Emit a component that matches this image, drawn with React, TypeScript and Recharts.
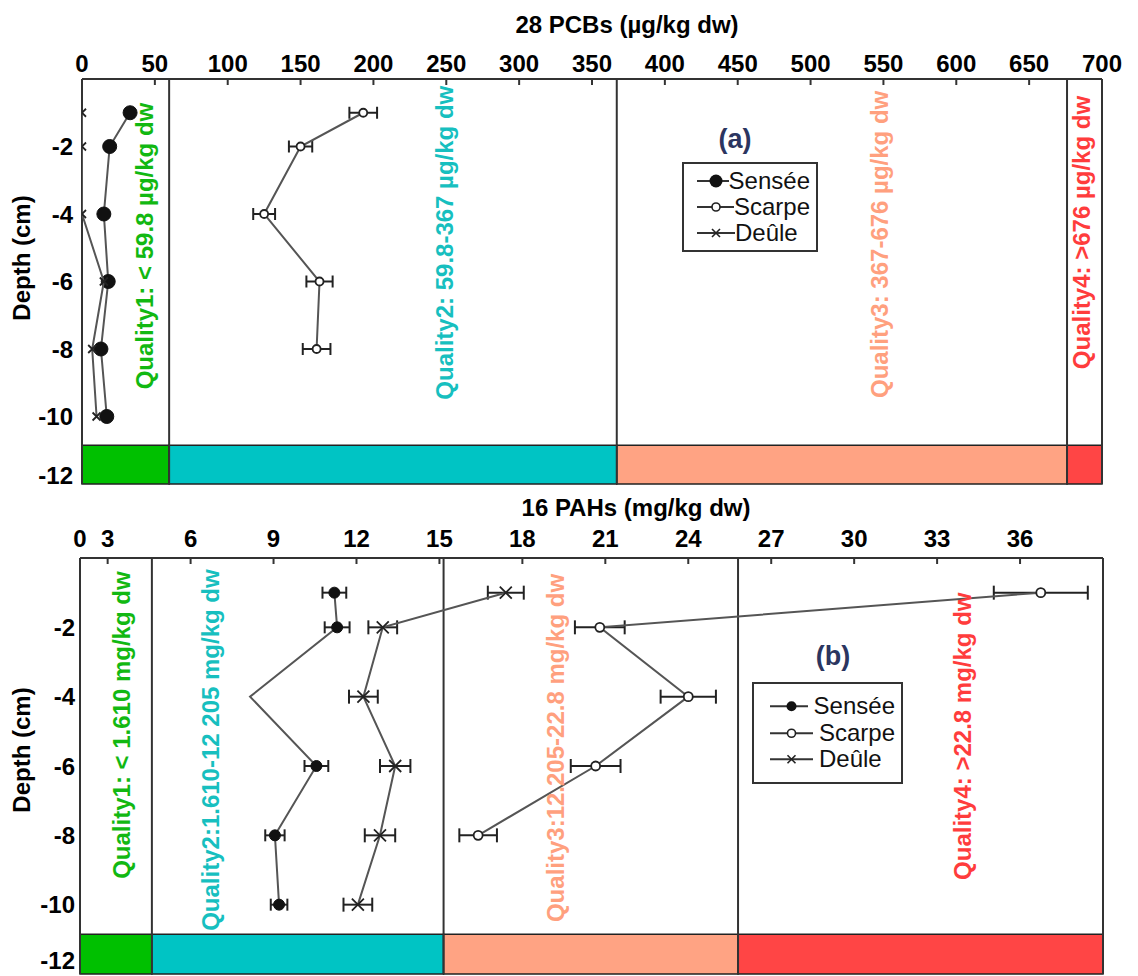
import {
  ComposedChart,
  Scatter,
  XAxis,
  YAxis,
  ErrorBar,
  ReferenceArea,
  ReferenceLine,
  ReferenceDot,
  Legend,
} from 'recharts'

const FONT = '"Liberation Sans", Arial, Helvetica, sans-serif'

// depth profile (cm)
const depths = [-1, -2, -4, -6, -8, -10]
const scarpeDepths = [-1, -2, -4, -6, -8]
const depthTicks = [-12, -10, -8, -6, -4, -2]

// 28 PCBs (µg/kg dw)
const pcbTicks = [0, 50, 100, 150, 200, 250, 300, 350, 400, 450, 500, 550, 600, 650, 700]
const pcbSensee = [33, 19, 15, 18, 13, 17]
const pcbScarpe = [193, 150, 125, 163, 161]
const pcbScarpeErr = [9.5, 8, 7.5, 9, 9.5]
const pcbDeule = [0, 0, 0, 15, 7, 10]
const pcbLimits = [0, 59.8, 367, 676, 700]
const pcbQuality = [
  'Quality1: < 59.8 µg/kg dw',
  'Quality2: 59.8-367 µg/kg dw',
  'Quality3: 367-676 µg/kg dw',
  'Quality4: >676 µg/kg dw',
]

// 16 PAHs (mg/kg dw) - axis origin is printed as 0
const pahTicks = [2, 3, 6, 9, 12, 15, 18, 21, 24, 27, 30, 33, 36]
const pahSensee = [11.2, 11.3, 8.15, 10.55, 9.05, 9.2]
const pahSenseeErr = [0.43, 0.45, null, 0.43, 0.35, 0.3]
const pahSenseeUnmarked = [-4]
const pahScarpe = [36.75, 20.8, 24.0, 20.65, 16.4]
const pahScarpeErr = [1.7, 0.9, 1.0, 0.9, 0.68]
const pahDeule = [17.4, 12.95, 12.25, 13.4, 12.85, 12.05]
const pahDeuleErr = [0.65, 0.52, 0.52, 0.55, 0.55, 0.52]
const pahLimits = [2, 4.6, 15.15, 25.8, 39]
const pahQuality = [
  'Quality1: < 1.610 mg/kg dw',
  'Quality2:1.610-12 205 mg/kg dw',
  'Quality3:12.205-22.8 mg/kg dw',
  'Quality4: >22.8 mg/kg dw',
]

const bandColors = ['#00c000', '#00c4c4', '#ffa383', '#ff4545']
const textColors = ['#12b812', '#17bfbf', '#ffa07e', '#ff3c3c']
const BAND_TOP = -10.85

const toPoints = (vals: number[], ds: number[], errs?: (number | null)[]) =>
  vals.map((v, i) => ({ v, d: ds[i], e: errs ? errs[i] : null }))

const filledDot = (r: number, skip: number[] = []) => (p: any) => {
  const d = (p.payload ?? p).d
  if (p.cx == null || skip.includes(d)) return <g />
  return <circle cx={p.cx} cy={p.cy} r={r} fill="#111" stroke="#111" />
}
const openDot = (r: number) => (p: any) =>
  p.cx == null ? <g /> : <circle cx={p.cx} cy={p.cy} r={r} fill="#fff" stroke="#222" strokeWidth={1.8} />
const xMark = (s: number) => (p: any) =>
  p.cx == null ? (
    <g />
  ) : (
    <path
      d={`M${p.cx - s},${p.cy - s}L${p.cx + s},${p.cy + s}M${p.cx - s},${p.cy + s}L${p.cx + s},${p.cy - s}`}
      stroke="#222"
      strokeWidth={1.8}
    />
  )

function LegendBox({ lineW, gap, padL, padT, rowH, big }: any) {
  const items = ['Sensée', 'Scarpe', 'Deûle']
  const mid = lineW / 2
  const markers = [
    <circle cx={mid} cy={rowH / 2} r={big ? 6.5 : 5} fill="#111" />,
    <circle cx={mid} cy={rowH / 2} r={4} fill="#fff" stroke="#222" strokeWidth={1.6} />,
    <path
      d={`M${mid - 4},${rowH / 2 - 4}L${mid + 4},${rowH / 2 + 4}M${mid - 4},${rowH / 2 + 4}L${mid + 4},${rowH / 2 - 4}`}
      stroke="#222"
      strokeWidth={1.6}
    />,
  ]
  return (
    <div
      style={{
        border: '2px solid #333',
        background: '#fff',
        padding: `${padT}px 6px ${padT}px ${padL}px`,
        fontFamily: FONT,
        fontSize: 24,
        color: '#111',
      }}
    >
      {items.map((name, i) => (
        <div key={name} style={{ display: 'flex', alignItems: 'center', height: rowH }}>
          <svg width={lineW} height={rowH}>
            <line x1={0} x2={lineW} y1={rowH / 2} y2={rowH / 2} stroke="#333" strokeWidth={2} />
            {markers[i]}
          </svg>
          <span style={{ marginLeft: gap, lineHeight: `${rowH}px` }}>{name}</span>
        </div>
      ))}
    </div>
  )
}

const tickStyle = { fill: '#000', fontSize: 24, fontWeight: 'bold', fontFamily: FONT }
const axisStroke = { stroke: '#333', strokeWidth: 2 }

// the lowest depth label sits a little above the frame edge, as in the figure
const depthTick = (lift: number) => (p: any) => (
  <text
    x={p.x}
    y={p.y - (p.payload.value === -12 ? lift : 0)}
    dy="0.36em"
    textAnchor="end"
    {...tickStyle}
  >
    {p.payload.value}
  </text>
)

function ProfileChart({ cfg }: any) {
  const { domain, limits } = cfg
  return (
    <ComposedChart width={1138} height={cfg.height} margin={cfg.margin}>
      <XAxis
        type="number"
        dataKey="v"
        orientation="top"
        domain={domain}
        ticks={cfg.ticks}
        interval={0}
        allowDataOverflow
        height={cfg.xAxisHeight}
        tickSize={-6}
        tickMargin={cfg.xTickMargin}
        tick={tickStyle}
        tickFormatter={cfg.tickFormatter}
        axisLine={axisStroke}
        tickLine={axisStroke}
      />
      <YAxis
        type="number"
        dataKey="d"
        domain={[-12, 0]}
        ticks={depthTicks}
        interval={0}
        allowDataOverflow
        width={cfg.yAxisWidth}
        tickLine={false}
        tickSize={0}
        tickMargin={cfg.yTickMargin}
        tick={depthTick(cfg.lowLift)}
        axisLine={axisStroke}
      />
      {bandColors.map((c, i) => (
        <ReferenceArea
          key={c}
          x1={limits[i]}
          x2={limits[i + 1]}
          y1={-12}
          y2={BAND_TOP}
          fill={c}
          fillOpacity={1}
          stroke="#222"
          strokeWidth={1.5}
        />
      ))}
      {limits.slice(1).map((l: number) => (
        <ReferenceLine key={l} x={l} stroke="#333" strokeWidth={2} />
      ))}
      {cfg.quality.map((q: string, i: number) => (
        <ReferenceDot
          key={q}
          x={cfg.labelAt[i][0]}
          y={cfg.labelAt[i][1]}
          r={0}
          ifOverflow="visible"
          label={{
            value: q,
            angle: -90,
            position: 'center',
            fill: textColors[i],
            fontSize: 24,
            fontWeight: 'bold',
            fontFamily: FONT,
          }}
        />
      ))}
      {cfg.series.map((s: any) => (
        <Scatter
          key={s.name}
          name={s.name}
          data={s.points}
          shape={s.shape}
          line={{ stroke: '#555', strokeWidth: 2 }}
          lineType="joint"
          isAnimationActive={false}
        >
          {s.err && (
            <ErrorBar
              dataKey="e"
              direction="x"
              width={s.capW}
              stroke="#222"
              strokeWidth={2}
              isAnimationActive={false}
            />
          )}
        </Scatter>
      ))}
      <Legend
        layout="vertical"
        align="center"
        verticalAlign="middle"
        wrapperStyle={{ left: cfg.legend.left, top: cfg.legend.top, width: cfg.legend.width }}
        content={() => <LegendBox {...cfg.legend} />}
      />
    </ComposedChart>
  )
}

const pcbCfg = {
  height: 490,
  margin: { top: 29, right: 36, bottom: 6, left: 0 },
  xAxisHeight: 50,
  xTickMargin: 13,
  yAxisWidth: 82,
  yTickMargin: 9,
  lowLift: 9,
  domain: [0, 700],
  ticks: pcbTicks,
  tickFormatter: (v: number) => String(v),
  limits: pcbLimits,
  quality: pcbQuality,
  labelAt: [
    [43, -4.95],
    [249, -4.85],
    [547, -4.9],
    [686, -4.55],
  ],
  series: [
    { name: 'Sensée', points: toPoints(pcbSensee, depths), shape: filledDot(7) },
    { name: 'Scarpe', points: toPoints(pcbScarpe, scarpeDepths, pcbScarpeErr), shape: openDot(4), err: true, capW: 6 },
    { name: 'Deûle', points: toPoints(pcbDeule, depths), shape: xMark(4) },
  ],
  legend: { left: 682, top: 162, width: 136, lineW: 38, gap: 0, padL: 13, padT: 4, rowH: 26, big: true },
}

const pahCfg = {
  height: 486,
  margin: { top: 28, right: 35, bottom: 2, left: 0 },
  xAxisHeight: 40,
  xTickMargin: 17,
  yAxisWidth: 80,
  yTickMargin: 5,
  lowLift: 14,
  domain: [2, 39],
  ticks: pahTicks,
  tickFormatter: (v: number) => (v === 2 ? '0' : String(v)),
  limits: pahLimits,
  quality: pahQuality,
  labelAt: [
    [3.5, -4.82],
    [6.72, -5.54],
    [19.19, -5.48],
    [33.9, -5.14],
  ],
  series: [
    {
      name: 'Sensée',
      points: toPoints(pahSensee, depths, pahSenseeErr),
      shape: filledDot(5.5, pahSenseeUnmarked),
      err: true,
      capW: 6,
    },
    { name: 'Scarpe', points: toPoints(pahScarpe, scarpeDepths, pahScarpeErr), shape: openDot(4.5), err: true, capW: 7 },
    { name: 'Deûle', points: toPoints(pahDeule, depths, pahDeuleErr), shape: xMark(6), err: true, capW: 7 },
  ],
  legend: { left: 752, top: 192, width: 151, lineW: 43, gap: 6, padL: 16, padT: 9, rowH: 26.5, big: false },
}

export default function App() {
  const boldText = { fontFamily: FONT, fontWeight: 'bold' as const, fontSize: 24, fill: '#000' }
  return (
    <div
      style={{
        position: 'absolute',
        left: 0,
        top: 0,
        width: 1138,
        height: 976,
        overflow: 'hidden',
        background: '#fff',
      }}
    >
      <div style={{ position: 'absolute', left: 0, top: 0 }}>
        <ProfileChart cfg={pcbCfg} />
      </div>
      <div style={{ position: 'absolute', left: 0, top: 490 }}>
        <ProfileChart cfg={pahCfg} />
      </div>
      <svg
        width={1138}
        height={976}
        style={{ position: 'absolute', left: 0, top: 0, pointerEvents: 'none' }}
      >
        <text x={627} y={33} textAnchor="middle" {...boldText}>
          28 PCBs (µg/kg dw)
        </text>
        <text x={636} y={516} textAnchor="middle" {...boldText}>
          16 PAHs (mg/kg dw)
        </text>
        <text x={30} y={258} textAnchor="middle" transform="rotate(-90 30 258)" {...boldText}>
          Depth (cm)
        </text>
        <text x={30} y={750} textAnchor="middle" transform="rotate(-90 30 750)" {...boldText}>
          Depth (cm)
        </text>
        <text x={735} y={148} textAnchor="middle" {...boldText} fontSize={27} fill="#2b3560">
          (a)
        </text>
        <text x={833} y={665} textAnchor="middle" {...boldText} fontSize={27} fill="#2b3560">
          (b)
        </text>
      </svg>
    </div>
  )
}
